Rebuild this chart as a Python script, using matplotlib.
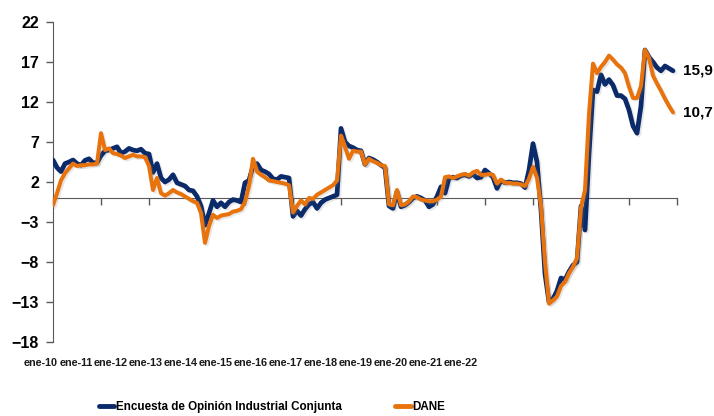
import matplotlib
matplotlib.use("Agg")
import numpy as np
import matplotlib.pyplot as plt
import matplotlib.patheffects as pe

plt.rcParams['font.family'] = ['Liberation Sans', 'DejaVu Sans']
plt.rcParams['font.weight'] = 'bold'

# monthly series, ene-2010 .. dic-2022
eoic = [
    # 2010
    4.75, 3.8, 3.3, 4.3, 4.5, 4.75, 4.3, 4.1, 4.7, 4.9, 4.4, 4.4,
    # 2011
    5.3, 5.9, 6.0, 6.2, 6.4, 5.6, 5.8, 6.2, 6.0, 5.9, 6.1, 5.6,
    # 2012
    5.5, 3.2, 4.3, 2.5, 2.0, 2.3, 2.9, 1.9, 1.7, 1.5, 1.0, 0.9,
    # 2013
    0.2, -1.0, -3.4, -1.9, -0.3, -1.1, -0.6, -1.1, -0.5, -0.2, -0.3, -0.5,
    # 2014
    1.9, 2.2, 4.0, 4.3, 3.5, 3.3, 3.0, 2.4, 2.3, 2.7, 2.6, 2.5,
    # 2015
    -2.3, -1.6, -2.2, -1.4, -0.8, -0.5, -1.3, -0.6, -0.2, 0.0, 0.2, 0.4,
    # 2016
    8.7, 7.0, 6.5, 6.3, 6.0, 5.9, 4.2, 5.0, 4.8, 4.5, 4.1, 3.8,
    # 2017
    -1.0, -1.3, 0.8, -1.1, -0.9, -0.5, 0.0, 0.2, 0.0, -0.3, -1.1, -0.8,
    # 2018
    0.2, 1.4, 0.6, 2.5, 2.6, 2.5, 2.8, 2.9, 2.7, 3.0, 2.5, 2.6,
    # 2019
    3.5, 3.1, 2.6, 1.2, 2.2, 1.9, 2.0, 1.9, 1.9, 1.8, 1.3, 3.5,
    # 2020
    6.8, 4.5, -1.5, -9.5, -13.0, -12.6, -11.6, -10.0, -10.2, -9.2, -8.4, -8.0,
    # 2021
    -1.0, -4.0, 5.5, 13.5, 13.3, 15.4, 14.2, 14.8, 14.1, 12.8, 12.8, 12.4,
    # 2022
    11.0, 9.0, 8.1, 11.5, 18.5, 17.6, 17.0, 16.3, 15.9, 16.5, 16.2, 15.9,
]

dane = [
    # 2010
    -0.9, 0.6, 2.2, 3.1, 3.7, 4.3, 4.0, 4.1, 4.1, 4.2, 4.2, 4.3,
    # 2011
    8.1, 6.0, 6.2, 5.6, 5.5, 5.3, 5.0, 5.2, 5.4, 5.2, 5.2, 5.1,
    # 2012
    4.0, 1.0, 2.5, 0.6, 0.3, 0.6, 1.0, 0.7, 0.5, 0.2, -0.1, -0.4,
    # 2013
    -0.6, -1.9, -5.6, -3.5, -2.1, -2.5, -2.2, -2.1, -2.0, -1.7, -1.6, -1.4,
    # 2014
    -0.5, 1.5, 4.9, 3.3, 2.9, 2.6, 2.2, 2.1, 2.0, 1.9, 1.8, 1.6,
    # 2015
    -1.8, -1.0, -0.3, -0.8, 0.0, -0.1, 0.4, 0.7, 1.0, 1.3, 1.6, 2.2,
    # 2016
    7.8, 6.4, 4.9, 5.9, 5.8, 5.8, 4.2, 4.9, 4.6, 4.4, 4.1, 4.0,
    # 2017
    -0.8, -0.9, 1.0, -0.9, -0.8, -0.4, 0.2, 0.1, -0.2, -0.3, -0.4, -0.4,
    # 2018
    -0.2, 0.2, 2.6, 2.7, 2.5, 2.7, 2.9, 3.0, 2.8, 3.2, 3.4, 2.9,
    # 2019
    2.9, 3.0, 2.9, 1.8, 2.3, 1.9, 1.9, 1.8, 1.8, 1.7, 1.5, 2.4,
    # 2020
    3.9, 2.5, -1.0, -8.0, -13.2, -12.8, -12.3, -11.0, -10.5, -9.4, -8.6, -7.5,
    # 2021
    -1.2, 1.0, 10.5, 16.8, 15.6, 16.4, 17.0, 17.8, 17.3, 16.7, 16.3, 15.6,
    # 2022
    13.9, 12.5, 12.5, 14.0, 18.5, 17.5, 15.3, 14.3, 13.4, 12.4, 11.5, 10.7,
]

year_labels = ["ene-10", "ene-11", "ene-12", "ene-13", "ene-14", "ene-15", "ene-16",
               "ene-17", "ene-18", "ene-19", "ene-20", "ene-21", "ene-22"]
y_ticks = [-18, -13, -8, -3, 2, 7, 12, 17, 22]

navy = "#0B2A6A"
orange = "#E8730C"
axis_grey = "#595959"

fig = plt.figure(figsize=(7.14, 4.16), dpi=100)
ax = fig.add_axes([53 / 714, 74 / 416, 624 / 714, 320 / 416])

months = np.arange(len(eoic))
shadow = [pe.SimpleLineShadow(offset=(1.2, -1.2), alpha=0.18, shadow_color="#7f7f7f"), pe.Normal()]
ax.plot(months, eoic, color=navy, lw=3.4, solid_joinstyle="round", solid_capstyle="round",
        label="Encuesta de Opinión Industrial Conjunta", path_effects=shadow, zorder=3)
ax.plot(months, dane, color=orange, lw=2.9, solid_joinstyle="round", solid_capstyle="round",
        label="DANE", path_effects=shadow, zorder=4)

ax.set_xlim(0, 156)
ax.set_ylim(-18, 22)
ax.set_yticks(y_ticks)
ax.tick_params(axis="y", length=5, width=1, color=axis_grey, labelsize=11.5, pad=5)
ax.set_xticks(np.arange(0, 157, 12))
ax.tick_params(axis="x", length=5, width=1, color=axis_grey, labelbottom=False)

for s in ["top", "right"]:
    ax.spines[s].set_visible(False)
ax.spines["bottom"].set_position(("data", 0))
ax.spines["bottom"].set_color(axis_grey)
ax.spines["left"].set_color(axis_grey)

for lbl in ax.get_yticklabels():
    lbl.set_fontweight("bold")

# crowded category labels under the plot
for i, txt in enumerate(year_labels):
    fig.text((41 + 35 * i) / 714, 1 - 363 / 416, txt, ha="center", va="center",
             fontsize=7.8, fontweight="bold", color="#1a1a1a")

# end values
ax.annotate("15,9", xy=(months[-1], eoic[-1]), xytext=(7, 0), textcoords="offset points",
            ha="left", va="center", fontsize=11, fontweight="bold", annotation_clip=False)
ax.annotate("10,7", xy=(months[-1], dane[-1]), xytext=(7, 0), textcoords="offset points",
            ha="left", va="center", fontsize=11, fontweight="bold", annotation_clip=False)

leg = fig.legend(loc="center", bbox_to_anchor=(272 / 714, 1 - 407 / 416), ncol=2,
                 frameon=False, handlelength=1.3, handletextpad=0.15, columnspacing=4.6,
                 prop={"size": 8.4, "weight": "bold"})
for h in leg.get_lines():
    h.set_linewidth(3.5)
    h.set_path_effects([])

fig.savefig("out.png", dpi=100)
